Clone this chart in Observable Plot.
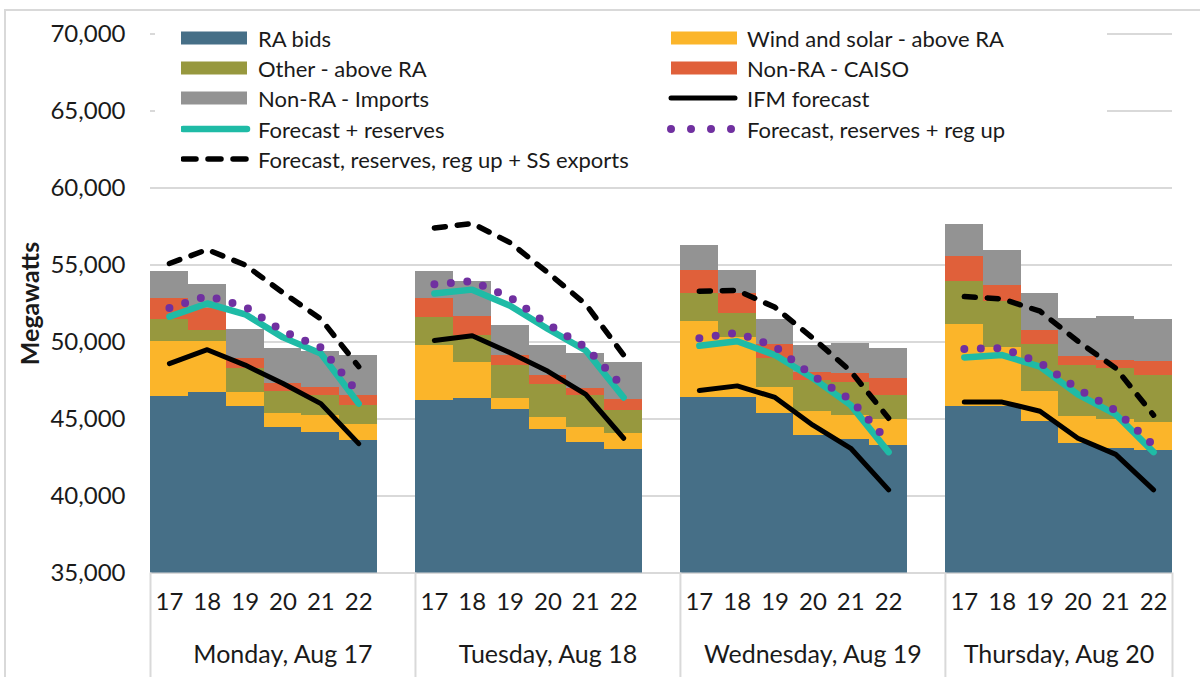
<!DOCTYPE html>
<html>
<head>
<meta charset="utf-8">
<script src="https://cdn.jsdelivr.net/npm/d3@7"></script>
<script src="https://cdn.jsdelivr.net/npm/@observablehq/plot@0.6"></script>
<style>
  html, body { margin: 0; padding: 0; background: #fff; overflow: hidden; }
  #wrap { position: relative; width: 1200px; height: 677px; font-family: Lato, "Open Sans", sans-serif; color: #1a1a1a; }
  #border { position: absolute; left: 4px; top: 9px; right: -10px; bottom: -10px; border-left: 2px solid #d9d9d9; border-top: 2px solid #d9d9d9; pointer-events: none; }
  #legend { position: absolute; left: 155px; top: 22px; width: 952px; height: 155px; background: #fff; }
  .item { position: absolute; display: flex; align-items: center; height: 26px; font-size: 22px; white-space: nowrap; }
  .item svg { display: block; }
</style>
</head>
<body>
<div id="wrap">
  <div id="chart"></div>
  <div id="legend"></div>
  <div id="border"></div>
</div>
<script>
// ---- data ----
const days = ["Monday, Aug 17", "Tuesday, Aug 18", "Wednesday, Aug 19", "Thursday, Aug 20"];
const hours = [17, 18, 19, 20, 21, 22];
const yTicks = [35000, 40000, 45000, 50000, 55000, 60000, 65000, 70000];

// stacked components (MW), one row per day, one value per hour
const raBids = [
  [46450, 46700, 45800, 44450, 44150, 43600],
  [46200, 46350, 45600, 44300, 43450, 43000],
  [46400, 46400, 45350, 43900, 43650, 43300],
  [45800, 45800, 44850, 43400, 43100, 42950]
];
const windSolarAboveRA = [
  [3600, 3350, 900, 900, 1100, 1050],
  [3550, 2300, 750, 800, 1000, 1050],
  [4900, 3900, 1700, 1600, 1600, 1700],
  [5350, 3850, 1950, 1750, 1900, 1850]
];
const otherAboveRA = [
  [1400, 700, 1550, 1450, 1300, 1200],
  [1850, 1800, 2150, 2150, 2050, 1500],
  [1850, 1550, 1900, 2000, 2100, 1550],
  [2800, 3000, 3050, 3350, 3300, 3000]
];
const nonRaCaiso = [
  [1350, 1450, 650, 500, 500, 700],
  [1200, 1200, 650, 600, 500, 700],
  [1500, 1300, 900, 550, 600, 1100],
  [1600, 1050, 900, 550, 500, 950]
];
const nonRaImports = [
  [1750, 1550, 1900, 2250, 2350, 2600],
  [1750, 2250, 1900, 1950, 2250, 2400],
  [1600, 1500, 1600, 1750, 1950, 1900],
  [2100, 2250, 2400, 2500, 2850, 2700]
];

// line series (MW)
const ifmForecast = [
  [48600, 49500, 48500, 47300, 46000, 43400],
  [50100, 50400, 49300, 48100, 46600, 43750],
  [46850, 47150, 46400, 44600, 43100, 40400],
  [46100, 46100, 45500, 43750, 42700, 40400]
];
const forecastReserves = [
  [51650, 52500, 51800, 50300, 49250, 46000],
  [53150, 53400, 52350, 50850, 49450, 46400],
  [49750, 50050, 49150, 47650, 45900, 42850],
  [49000, 49150, 48400, 46600, 45300, 42850]
];
const forecastRegUp = [
  [52200, 53000, 52300, 50700, 49650, 46650],
  [53750, 53950, 52900, 51150, 49650, 47050],
  [50250, 50600, 49700, 47800, 46250, 43500],
  [49550, 49600, 48650, 46950, 45550, 43300]
];
const forecastSSExports = [
  [55100, 56000, 55000, 53200, 51500, 48400],
  [57400, 57700, 56450, 54500, 52450, 49150],
  [53300, 53350, 52250, 50250, 48100, 45050],
  [52950, 52800, 52000, 50050, 48300, 45250]
];

// ---- series definitions ----
const barSeries = [
  {name: "RA bids", values: raBids, color: "#466f87"},
  {name: "Wind and solar - above RA", values: windSolarAboveRA, color: "#fbb52a"},
  {name: "Other - above RA", values: otherAboveRA, color: "#97983e"},
  {name: "Non-RA - CAISO", values: nonRaCaiso, color: "#e0603a"},
  {name: "Non-RA - Imports", values: nonRaImports, color: "#939393"}
];
const lineSeries = [
  {name: "IFM forecast", values: ifmForecast, stroke: "#000000", strokeWidth: 5, dash: null, legendDash: null},
  {name: "Forecast + reserves", values: forecastReserves, stroke: "#1fbba6", strokeWidth: 6.5, dash: null, legendDash: null},
  {name: "Forecast, reserves + reg up", values: forecastRegUp, stroke: "#7030a0", strokeWidth: 8, dash: "0 16.5", legendDash: "0 20"},
  {name: "Forecast, reserves, reg up + SS exports", values: forecastSSExports, stroke: "#000000", strokeWidth: 5.5, dash: "11 12", legendDash: "13 12"}
];

// ---- derived tables ----
const slotsPerDay = hours.length + 1;
const nSlots = days.length * slotsPerDay - 1;
const slotOf = (d, h) => d * slotsPerDay + h;

const rects = [];
days.forEach((day, d) => {
  hours.forEach((hr, h) => {
    let base = 0;
    barSeries.forEach(s => {
      const v = s.values[d][h];
      rects.push({series: s.name, x1: slotOf(d, h), x2: slotOf(d, h) + 1, y1: base, y2: base + v});
      base += v;
    });
  });
});

const lineRows = s => days.flatMap((day, d) => hours.map((hr, h) => ({day, x: slotOf(d, h) + 0.5, y: s.values[d][h]})));

const hourRows = days.flatMap((day, d) => hours.map((hr, h) => ({x: slotOf(d, h) + 0.5, hour: String(hr)})));
const dayRows = days.map((day, d) => ({day, x: (d * slotsPerDay + Math.min(d * slotsPerDay + slotsPerDay, nSlots)) / 2}));
const boundaries = days.map((day, d) => d * slotsPerDay).concat([nSlots]);

const lineMarks = lineSeries.map(s => Plot.line(lineRows(s), {
  x: "x", y: "y", z: "day",
  stroke: s.stroke, strokeWidth: s.strokeWidth,
  strokeDasharray: s.dash, strokeLinecap: "round", strokeLinejoin: "round"
}));

const chart = Plot.plot({
  width: 1200,
  height: 677,
  marginLeft: 150,
  marginRight: 28,
  marginTop: 33.5,
  marginBottom: 104.5,
  style: {fontFamily: "Lato, 'Open Sans', sans-serif", fontSize: "24px", color: "#1a1a1a", background: "transparent"},
  x: {domain: [0, nSlots], label: null},
  y: {domain: [35000, 70000], label: null},
  color: {domain: barSeries.map(s => s.name), range: barSeries.map(s => s.color)},
  marks: [
    Plot.gridY(yTicks, {stroke: "#d9d9d9", strokeOpacity: 1, strokeWidth: 2}),
    Plot.rect(rects, {x1: "x1", x2: "x2", y1: "y1", y2: "y2", fill: "series", clip: true, shapeRendering: "crispEdges"}),
    ...lineMarks,
    Plot.axisY(yTicks, {tickSize: 0, tickPadding: 25, tickFormat: d3.format(","), fontSize: 24, label: null}),
    Plot.axisX(boundaries, {tickSize: 105, tickFormat: () => "", stroke: "#d9d9d9", strokeWidth: 2, label: null}),
    Plot.text(hourRows, {x: "x", text: "hour", frameAnchor: "bottom", dy: 37, fontSize: 24, fill: "#1a1a1a"}),
    Plot.text(dayRows, {x: "x", text: "day", frameAnchor: "bottom", dy: 90, fontSize: 25, fill: "#1a1a1a"}),
    Plot.text(["Megawatts"], {frameAnchor: "left", textAnchor: "middle", dx: -120, rotate: -90, fontWeight: "bold", fontSize: 25, fill: "#1a1a1a"})
  ]
});
document.getElementById("chart").appendChild(chart);

// ---- legend (HTML overlay) ----
const legendItems = [
  ...barSeries.map(s => ({name: s.name, type: "rect", color: s.color})),
  ...lineSeries.map(s => ({name: s.name, type: "line", s}))
];
// Excel flows legend entries row by row across two columns
const colSwatch = [26, 512];
const colWidth = [77, 80];
const rowTop = [3, 33, 63, 94, 124];
const legend = document.getElementById("legend");
const ns = "http://www.w3.org/2000/svg";
legendItems.forEach((it, i) => {
  const col = i % 2, row = Math.floor(i / 2);
  const div = document.createElement("div");
  div.className = "item";
  div.style.left = colSwatch[col] + "px";
  div.style.top = rowTop[row] + "px";
  const svg = document.createElementNS(ns, "svg");
  const w = colWidth[col];
  svg.setAttribute("width", w);
  svg.setAttribute("height", 26);
  if (it.type === "rect") {
    const r = document.createElementNS(ns, "rect");
    r.setAttribute("x", col === 0 ? 0 : 4);
    r.setAttribute("y", 6.5);
    r.setAttribute("width", 66);
    r.setAttribute("height", 13);
    r.setAttribute("fill", it.color);
    svg.appendChild(r);
  } else {
    const l = document.createElementNS(ns, "line");
    const x0 = col === 0 ? 2 : 4;
    l.setAttribute("x1", x0);
    l.setAttribute("x2", x0 + 64);
    l.setAttribute("y1", 13);
    l.setAttribute("y2", 13);
    l.setAttribute("stroke", it.s.stroke);
    l.setAttribute("stroke-width", it.s.strokeWidth);
    l.setAttribute("stroke-linecap", "round");
    if (it.s.legendDash) l.setAttribute("stroke-dasharray", it.s.legendDash);
    svg.appendChild(l);
  }
  div.appendChild(svg);
  const span = document.createElement("span");
  span.textContent = it.name;
  div.appendChild(span);
  legend.appendChild(div);
});
</script>
</body>
</html>
